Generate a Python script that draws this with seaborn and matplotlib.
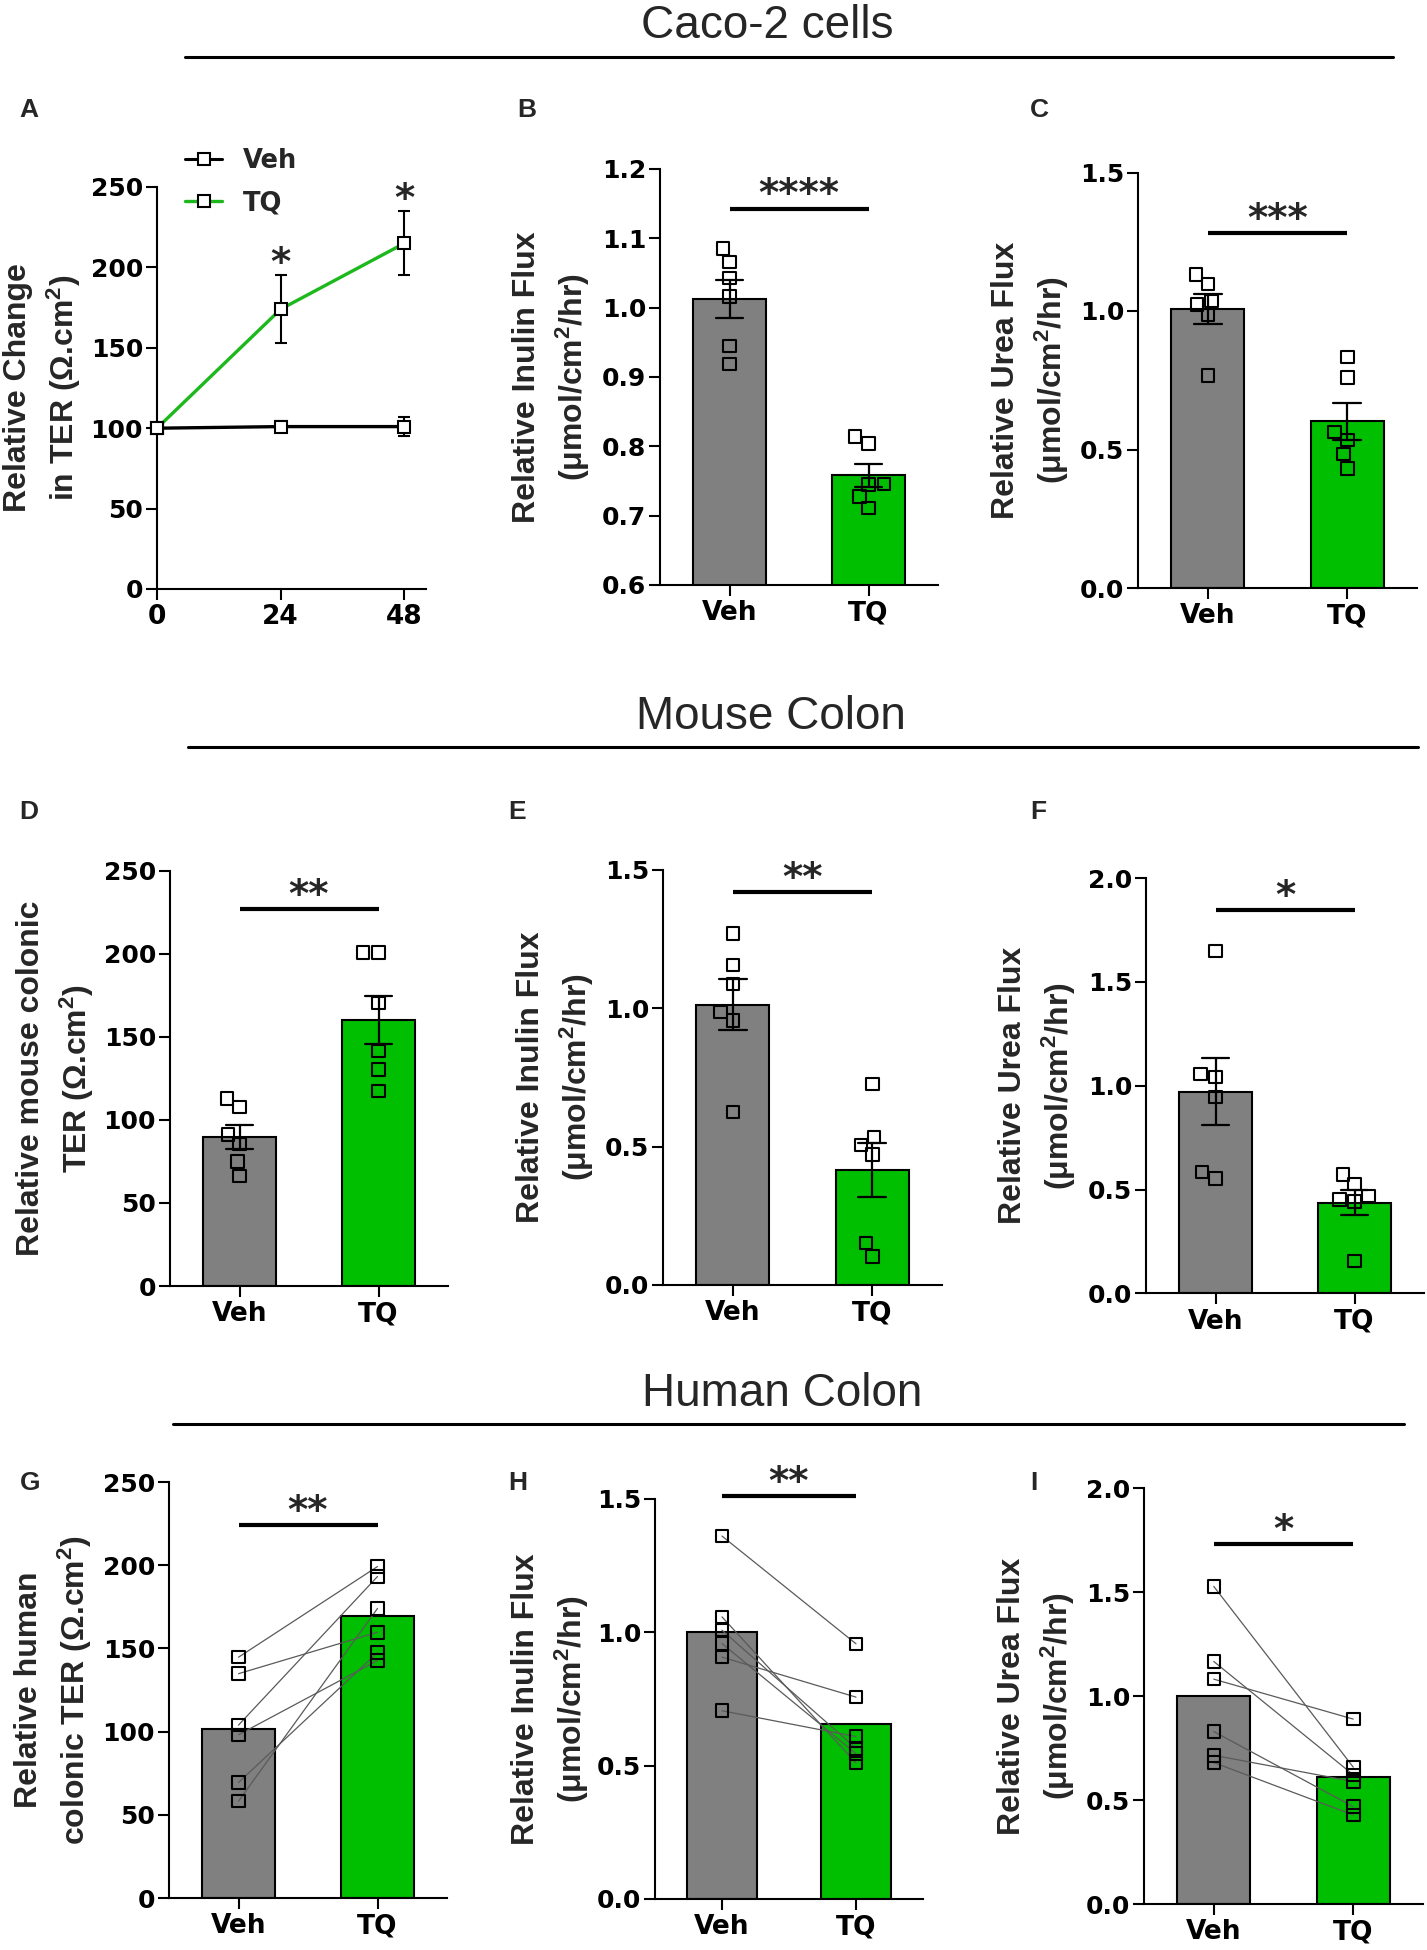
import pandas as pd
import matplotlib
matplotlib.use('Agg')
import matplotlib.pyplot as plt
from matplotlib.lines import Line2D
import seaborn as sns

# ---- values ----
groups = ['Veh', 'TQ']

# A: Caco-2 TER over time (mean, SEM)
hours = [0, 24, 48]
ter_veh_mean = [100, 101, 101]
ter_veh_sem = [0, 3.5, 6]
ter_tq_mean = [100, 174, 215]
ter_tq_sem = [0, 21, 20]

# B: Caco-2 inulin flux
b_veh = [1.085, 1.066, 1.043, 1.016, 0.945, 0.919]
b_tq = [0.814, 0.804, 0.746, 0.745, 0.728, 0.711]
# C: Caco-2 urea flux
c_veh = [1.131, 1.098, 1.037, 1.024, 0.986, 0.767]
c_tq = [0.834, 0.760, 0.564, 0.535, 0.483, 0.432]
# D: mouse colonic TER
d_veh = [112.9, 107.7, 91.3, 85.5, 74.8, 66.1]
d_tq = [200.6, 200.6, 170.3, 141.4, 130.2, 117.5]
# E: mouse inulin flux
e_veh = [1.269, 1.155, 1.086, 0.986, 0.954, 0.625]
e_tq = [0.725, 0.534, 0.506, 0.471, 0.151, 0.103]
# F: mouse urea flux
f_veh = [1.649, 1.056, 1.042, 0.946, 0.584, 0.552]
f_tq = [0.573, 0.527, 0.470, 0.451, 0.442, 0.157]
# G-I: human colon, paired samples (same index = same donor)
g_veh = [144.7, 134.8, 103.9, 98.1, 69.4, 58.2]
g_tq = [199.2, 159.7, 193.2, 142.7, 147.5, 174.0]
h_veh = [1.361, 1.058, 1.008, 0.958, 0.907, 0.706]
h_tq = [0.957, 0.510, 0.565, 0.545, 0.757, 0.609]
i_veh = [1.527, 1.166, 1.081, 0.829, 0.715, 0.680]
i_tq = [0.658, 0.621, 0.889, 0.468, 0.589, 0.428]

# significance bar height and label per panel
sig_b = (1.143, '****')
sig_c = (1.28, '***')
sig_d = (226.6, '**')
sig_e = (1.42, '**')
sig_f = (1.845, '*')
sig_g = (224.0, '**')
sig_h = (1.511, '**')
sig_i = (1.731, '*')

# ---- style ----
sns.set_style('ticks')
plt.rcParams['font.family'] = ['DejaVu Sans']
plt.rcParams['font.weight'] = 'bold'
plt.rcParams['axes.linewidth'] = 1.5
plt.rcParams['axes.edgecolor'] = 'black'
plt.rcParams['xtick.color'] = 'black'
plt.rcParams['ytick.color'] = 'black'
plt.rcParams['mathtext.fontset'] = 'custom'
plt.rcParams['mathtext.rm'] = 'Liberation Sans:bold'
plt.rcParams['mathtext.default'] = 'rm'

LABEL = dict(family=['Liberation Sans', 'DejaVu Sans'], weight='bold', size=23)
bar_palette = {'Veh': '#808080', 'TQ': '#00BE00'}
line_green = '#1CB81C'

W, H = 1427, 1950
fig = plt.figure(figsize=(W / 100, H / 100), dpi=100)


def add_ax(l, t, r, b):
    return fig.add_axes([l / W, 1 - b / H, (r - l) / W, (b - t) / H])


def style_axis(ax, ylim, yticks, fmt, ylabel, label_x):
    ax.set_ylim(*ylim)
    ax.set_yticks(yticks)
    ax.set_yticklabels([fmt.format(v) for v in yticks])
    ax.set_xlabel('')
    ax.set_ylabel(ylabel, linespacing=1.4, **LABEL)
    ax.yaxis.set_label_coords(label_x, 0.5)
    sns.despine(ax=ax)
    ax.tick_params(axis='y', labelsize=18, length=8, width=1.5, pad=2)
    ax.tick_params(axis='x', labelsize=19, length=8, width=1.5, pad=3)


def add_sig(ax, sig):
    y, stars = sig
    ax.plot(groups, [y, y], color='black', lw=3, clip_on=False,
            solid_capstyle='butt')
    ax.annotate(stars, xy=(0.5, y), xytext=(0, 1.5), textcoords='offset points',
                ha='center', va='baseline', fontsize=28, fontweight='bold',
                annotation_clip=False)


def bar_panel(box, veh, tq, ylim, yticks, fmt, ylabel, label_x, sig, paired=False):
    ax = add_ax(*box)
    df = pd.DataFrame({'group': ['Veh'] * len(veh) + ['TQ'] * len(tq),
                       'value': veh + tq,
                       'pair': list(range(len(veh))) + list(range(len(tq)))})
    ax.set_ylim(*ylim)
    sns.barplot(data=df, x='group', y='value', hue='group', order=groups,
                hue_order=groups, palette=bar_palette, saturation=1, width=0.52,
                edgecolor='black', linewidth=1.5,
                errorbar=None if paired else 'se', capsize=0.2,
                err_kws={'color': 'black', 'linewidth': 1.6},
                legend=False, ax=ax)
    n0 = len(ax.collections)
    if paired:
        sns.lineplot(data=df, x='group', y='value', units='pair', estimator=None,
                     sort=False, color='#5a5a5a', linewidth=0.9, legend=False, ax=ax)
        sns.stripplot(data=df, x='group', y='value', order=groups, jitter=False,
                      marker='s', size=9, color='white', edgecolor='black',
                      linewidth=1.5, zorder=4, ax=ax)
    else:
        sns.swarmplot(data=df, x='group', y='value', order=groups, marker='s',
                      size=9, color='white', edgecolor='black', linewidth=1.5,
                      zorder=4, ax=ax)
    for coll in ax.collections[n0:]:
        coll.set_facecolor('none')
    ax.set_xlim(-0.5, 1.5)
    style_axis(ax, ylim, yticks, fmt, ylabel, label_x)
    add_sig(ax, sig)
    return ax


flux_inulin = 'Relative Inulin Flux\n(μmol/cm$^2$/hr)'
flux_urea = 'Relative Urea Flux\n(μmol/cm$^2$/hr)'

# ---- A: time course ----
axA = add_ax(157, 187, 426, 589)
df_a = pd.DataFrame({'hours': hours * 2,
                     'ter': ter_veh_mean + ter_tq_mean,
                     'group': ['Veh'] * 3 + ['TQ'] * 3})
axA.errorbar(hours, ter_tq_mean, yerr=ter_tq_sem, fmt='none', ecolor='black',
             elinewidth=1.5, capsize=4.5, capthick=1.5, clip_on=False, zorder=2)
axA.errorbar(hours, ter_veh_mean, yerr=ter_veh_sem, fmt='none', ecolor='black',
             elinewidth=1.5, capsize=4.5, capthick=1.5, clip_on=False, zorder=2)
sns.lineplot(data=df_a, x='hours', y='ter', hue='group', hue_order=['TQ', 'Veh'],
             palette={'Veh': 'black', 'TQ': line_green}, marker='s', markersize=9,
             markerfacecolor='white', markeredgecolor='black', markeredgewidth=1.5,
             linewidth=2.4, legend=False, clip_on=False, zorder=3, ax=axA)
axA.set_xlim(0, 52.2)
axA.set_xticks(hours)
style_axis(axA, (0, 250), [0, 50, 100, 150, 200, 250], '{:.0f}',
           'Relative Change\nin TER (Ω.cm$^2$)', -0.275)
for h, m, s in zip(hours[1:], ter_tq_mean[1:], ter_tq_sem[1:]):
    axA.annotate('*', xy=(h, m + s), xytext=(0, 0), textcoords='offset points',
                 ha='center', va='baseline', fontsize=28, fontweight='bold',
                 annotation_clip=False)
handles = [Line2D([], [], color='black', lw=2.2, marker='s', ms=9, mfc='white',
                  mec='black', mew=1.5),
           Line2D([], [], color=line_green, lw=2.4, marker='s', ms=9, mfc='white',
                  mec='black', mew=1.5)]
axA.legend(handles, groups, loc='center left', bbox_to_anchor=(0.104, 1.012),
           frameon=False, borderpad=0, borderaxespad=0, handlelength=1.45,
           handletextpad=0.8, labelspacing=0.62,
           prop=dict(family='DejaVu Sans', weight='bold', size=18.5))

# ---- B-F ----
bar_panel((660, 169, 938, 585), b_veh, b_tq, (0.6, 1.2),
          [0.6, 0.7, 0.8, 0.9, 1.0, 1.1, 1.2], '{:.1f}', flux_inulin, -0.245, sig_b)
bar_panel((1138, 172.5, 1417, 588), c_veh, c_tq, (0, 1.5),
          [0, 0.5, 1.0, 1.5], '{:.1f}', flux_urea, -0.24, sig_c)
bar_panel((170, 870.6, 448, 1286), d_veh, d_tq, (0, 250),
          [0, 50, 100, 150, 200, 250], '{:.0f}',
          'Relative mouse colonic\nTER (Ω.cm$^2$)', -0.265, sig_d)
bar_panel((663, 869.5, 942, 1285), e_veh, e_tq, (0, 1.5),
          [0, 0.5, 1.0, 1.5], '{:.1f}', flux_inulin, -0.24, sig_e)
bar_panel((1146, 878, 1424, 1293.4), f_veh, f_tq, (0, 2.0),
          [0, 0.5, 1.0, 1.5, 2.0], '{:.1f}', flux_urea, -0.245, sig_f)

# ---- G-I (paired) ----
bar_panel((169, 1482, 447, 1898), g_veh, g_tq, (0, 250),
          [0, 50, 100, 150, 200, 250], '{:.0f}',
          'Relative human\ncolonic TER (Ω.cm$^2$)', -0.27, sig_g, paired=True)
bar_panel((655, 1499, 923, 1899), h_veh, h_tq, (0, 1.5),
          [0, 0.5, 1.0, 1.5], '{:.1f}', flux_inulin, -0.24, sig_h, paired=True)
bar_panel((1144, 1488, 1423, 1904), i_veh, i_tq, (0, 2.0),
          [0, 0.5, 1.0, 1.5, 2.0], '{:.1f}', flux_urea, -0.24, sig_i, paired=True)

# ---- section headers ----
headers = [('Caco-2 cells', 767, 38, 185, 1393, 57),
           ('Mouse Colon', 771, 729, 188, 1418, 747),
           ('Human Colon', 782, 1406, 173, 1404, 1424)]
for text, xc, base, x0, x1, yl in headers:
    fig.text(xc / W, 1 - base / H, text, ha='center', va='baseline',
             fontsize=33, fontweight='normal', family=['Liberation Sans', 'DejaVu Sans'])
    fig.add_artist(Line2D([x0 / W, x1 / W], [1 - yl / H] * 2, color='black',
                          lw=2.2, transform=fig.transFigure))

# ---- panel letters ----
letters = [('A', 19, 117), ('B', 517, 117), ('C', 1030, 117),
           ('D', 19, 819), ('E', 508, 819), ('F', 1030, 819),
           ('G', 20, 1490), ('H', 508, 1490), ('I', 1030, 1490)]
for lab, x, base in letters:
    fig.text(x / W, 1 - base / H, lab, ha='left', va='baseline', fontsize=19,
             fontweight='bold', family=['Liberation Sans', 'DejaVu Sans'])

fig.savefig('out.png', dpi=100)
